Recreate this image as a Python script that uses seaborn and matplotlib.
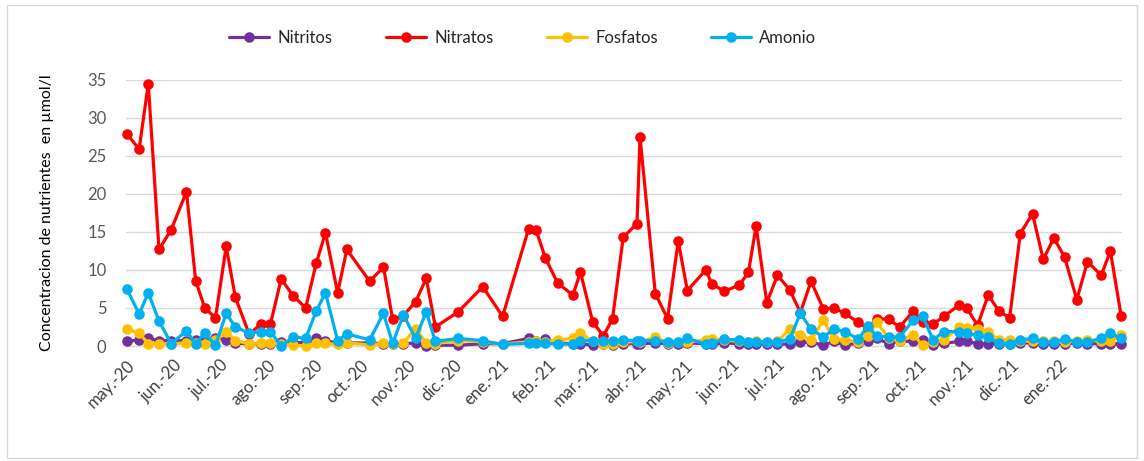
import matplotlib
matplotlib.use("Agg")
import matplotlib.pyplot as plt
from matplotlib.patches import Rectangle
import seaborn as sns
import pandas as pd

# ---------------- data ----------------
fechas = [
    "2020-05-01", "2020-05-09", "2020-05-15", "2020-05-22", "2020-05-30",
    "2020-06-09", "2020-06-15", "2020-06-21", "2020-06-28", "2020-07-05",
    "2020-07-11", "2020-07-20", "2020-07-28", "2020-08-03", "2020-08-10",
    "2020-08-18", "2020-08-26", "2020-09-02", "2020-09-08", "2020-09-16",
    "2020-09-22", "2020-10-07", "2020-10-16", "2020-10-22", "2020-10-29",
    "2020-11-06", "2020-11-13", "2020-11-19", "2020-12-04", "2020-12-20",
    "2021-01-02", "2021-01-19", "2021-01-24", "2021-01-30", "2021-02-07",
    "2021-02-17", "2021-02-22", "2021-03-02", "2021-03-09", "2021-03-15",
    "2021-03-22", "2021-03-31", "2021-04-02", "2021-04-12", "2021-04-20",
    "2021-04-27", "2021-05-03", "2021-05-15", "2021-05-19", "2021-05-27",
    "2021-06-06", "2021-06-12", "2021-06-17", "2021-06-24", "2021-07-01",
    "2021-07-09", "2021-07-16", "2021-07-23", "2021-07-31", "2021-08-07",
    "2021-08-14", "2021-08-23", "2021-08-29", "2021-09-04", "2021-09-12",
    "2021-09-19", "2021-09-28", "2021-10-04", "2021-10-11", "2021-10-18",
    "2021-10-28", "2021-11-02", "2021-11-09", "2021-11-16", "2021-11-23",
    "2021-11-30", "2021-12-07", "2021-12-15", "2021-12-22", "2021-12-29",
    "2022-01-05", "2022-01-13", "2022-01-20", "2022-01-29", "2022-02-04",
    "2022-02-11",
]

nitritos = [
    0.6, 0.8, 1.0, 0.7, 0.7, 0.7, 0.8, 0.8, 1.0, 0.8,
    0.35, 0.3, 0.3, 0.3, 0.5, 0.4, 0.5, 1.0, 0.7, 0.4,
    0.4, 0.4, 0.3, 0.3, 0.3, 0.4, 0.0, 0.1, 0.1, 0.3,
    0.3, 1.0, 0.6, 0.9, 0.4, 0.3, 0.3, 0.1, 0.2, 0.1,
    0.3, 0.3, 0.3, 0.4, 0.3, 0.3, 0.4, 0.3, 0.2, 0.4,
    0.3, 0.3, 0.3, 0.3, 0.2, 0.3, 0.5, 0.5, 0.1, 0.6,
    0.1, 0.4, 0.6, 1.0, 0.3, 0.65, 0.6, 0.8, 0.1, 0.35,
    0.6, 0.6, 0.3, 0.3, 0.3, 0.3, 0.4, 0.4, 0.3, 0.3,
    0.3, 0.4, 0.3, 0.3, 0.3, 0.3,
]

nitratos = [
    27.9, 25.9, 34.5, 12.7, 15.3, 20.3, 8.6, 5.0, 3.7, 13.1,
    6.4, 1.6, 2.9, 2.9, 8.8, 6.6, 5.0, 10.9, 14.9, 7.0,
    12.7, 8.5, 10.4, 3.5, 4.0, 5.8, 8.9, 2.5, 4.5, 7.8,
    3.9, 15.4, 15.2, 11.6, 8.3, 6.7, 9.7, 3.2, 1.3, 3.6,
    14.3, 16.1, 27.5, 6.9, 3.6, 13.8, 7.3, 10.0, 8.2, 7.2,
    8.0, 9.7, 15.8, 5.7, 9.3, 7.4, 4.4, 8.5, 4.9, 5.0,
    4.3, 3.1, 2.3, 3.6, 3.5, 2.5, 4.6, 3.2, 2.9, 3.9,
    5.4, 5.0, 2.7, 6.7, 4.6, 3.7, 14.8, 17.4, 11.4, 14.2,
    11.7, 6.1, 11.1, 9.3, 12.5, 4.0,
]

fosfatos = [
    2.2, 1.7, 0.3, 0.3, 0.3, 0.4, 0.4, 0.3, 0.8, 1.9,
    0.7, 0.3, 0.4, 0.4, 0.3, 0.1, 0.0, 0.35, 0.35, 0.2,
    0.4, 0.15, 0.35, 0.2, 0.35, 2.3, 0.4, 0.3, 0.7, 0.55,
    0.25, 0.55, 0.7, 0.55, 0.8, 1.0, 1.7, 0.6, 0.3, 0.3,
    0.5, 0.6, 0.5, 1.2, 0.4, 0.5, 0.5, 0.8, 0.9, 0.8,
    0.6, 0.5, 0.6, 0.5, 0.6, 2.2, 1.4, 0.8, 3.4, 0.9,
    0.8, 0.55, 1.3, 3.1, 1.0, 0.7, 1.5, 0.1, 0.55, 0.8,
    2.5, 2.4, 2.3, 1.9, 0.8, 0.8, 0.7, 0.6, 0.6, 0.6,
    0.5, 0.7, 0.8, 0.6, 0.7, 1.4,
]

amonio = [
    7.5, 4.2, 7.0, 3.3, 0.3, 2.0, 0.3, 1.7, 0.1, 4.3,
    2.5, 1.7, 1.9, 1.9, 0.0, 1.2, 1.0, 4.6, 7.0, 0.7,
    1.6, 0.8, 4.3, 0.35, 4.1, 1.0, 4.5, 0.6, 1.0, 0.7,
    0.2, 0.35, 0.35, 0.35, 0.25, 0.25, 0.7, 0.7, 0.65, 0.7,
    0.8, 0.7, 0.7, 0.7, 0.55, 0.55, 1.0, 0.25, 0.4, 0.9,
    0.8, 0.55, 0.55, 0.55, 0.55, 0.9, 4.3, 2.2, 1.2, 2.2,
    1.9, 0.9, 2.6, 1.3, 1.2, 1.2, 3.4, 3.9, 0.8, 1.9,
    1.9, 1.7, 1.4, 1.2, 0.35, 0.25, 0.8, 1.0, 0.55, 0.55,
    0.9, 0.55, 0.55, 1.0, 1.7, 1.0,
]

series_names = ["Nitritos", "Nitratos", "Fosfatos", "Amonio"]
series_colors = ["#7030A0", "#FF0000", "#FFC000", "#00B0F0"]

tick_dates = [
    "2020-05-01", "2020-06-01", "2020-07-01", "2020-08-01", "2020-09-01",
    "2020-10-01", "2020-11-01", "2020-12-01", "2021-01-01", "2021-02-01",
    "2021-03-01", "2021-04-01", "2021-05-01", "2021-06-01", "2021-07-01",
    "2021-08-01", "2021-09-01", "2021-10-01", "2021-11-01", "2021-12-01",
    "2022-01-01",
]
tick_labels = [
    "may.-20", "jun.-20", "jul.-20", "ago.-20", "sep.-20", "oct.-20",
    "nov.-20", "dic.-20", "ene.-21", "feb.-21", "mar.-21", "abr.-21",
    "may.-21", "jun.-21", "jul.-21", "ago.-21", "sep.-21", "oct.-21",
    "nov.-21", "dic.-21", "ene.-22",
]
y_ticks = [0, 5, 10, 15, 20, 25, 30, 35]
y_label = "Concentracion de nutrientes  en µmol/l"

# ---------------- plot ----------------
sns.set_theme(style="white")
plt.rcParams["font.family"] = ["Lato", "DejaVu Sans"]

df = pd.DataFrame({
    "fecha": pd.to_datetime(fechas),
    "Nitritos": nitritos,
    "Nitratos": nitratos,
    "Fosfatos": fosfatos,
    "Amonio": amonio,
})

fig = plt.figure(figsize=(11.44, 4.61), dpi=100)
ax = fig.add_axes([126 / 1144, 1 - 346 / 461, (1122 - 126) / 1144, (346 - 80) / 461])

for i, (name, col) in enumerate(zip(series_names, series_colors)):
    sns.lineplot(data=df, x="fecha", y=name, ax=ax, color=col, marker="o",
                 markersize=7.6, markeredgewidth=0, linewidth=2.3,
                 label=name, clip_on=False, zorder=3 + i)

if ax.get_legend() is not None:
    ax.get_legend().remove()

ax.set_xlim(pd.Timestamp(fechas[0]) - pd.Timedelta(days=0.6),
            pd.Timestamp(fechas[-1]) + pd.Timedelta(days=0.6))
ax.set_ylim(0, 35)
ax.set_yticks(y_ticks)
ax.set_yticklabels([str(v) for v in y_ticks], fontsize=12, color="#595959")
ax.set_xticks(pd.to_datetime(tick_dates))
ax.set_xticklabels(tick_labels, rotation=45, ha="right", rotation_mode="anchor",
                   fontsize=12, color="#404040")
ax.tick_params(axis="x", length=4, color="#D9D9D9", pad=4)
ax.tick_params(axis="y", length=0, pad=14)

ax.grid(axis="y", color="#D9D9D9", linewidth=1.0)
ax.set_axisbelow(True)
for s in ["top", "right", "left"]:
    ax.spines[s].set_visible(False)
ax.spines["bottom"].set_color("#D9D9D9")
ax.spines["bottom"].set_linewidth(1.0)

ax.set_xlabel("")
ax.set_ylabel(y_label, fontsize=11.5, color="#000000", labelpad=24)

handles, labels = ax.get_legend_handles_labels()
fig.legend(handles, labels, loc="center", bbox_to_anchor=(0.457, 1 - 38 / 461),
           ncol=4, frameon=False, fontsize=12, handlelength=2.4,
           columnspacing=3.2, handletextpad=0.5)

fig.patches.append(Rectangle((7 / 1144, 3 / 461), 1130 / 1144, 453 / 461,
                             transform=fig.transFigure, fill=False,
                             edgecolor="#D9D9D9", linewidth=1.0))

fig.savefig("out.png", dpi=100)
